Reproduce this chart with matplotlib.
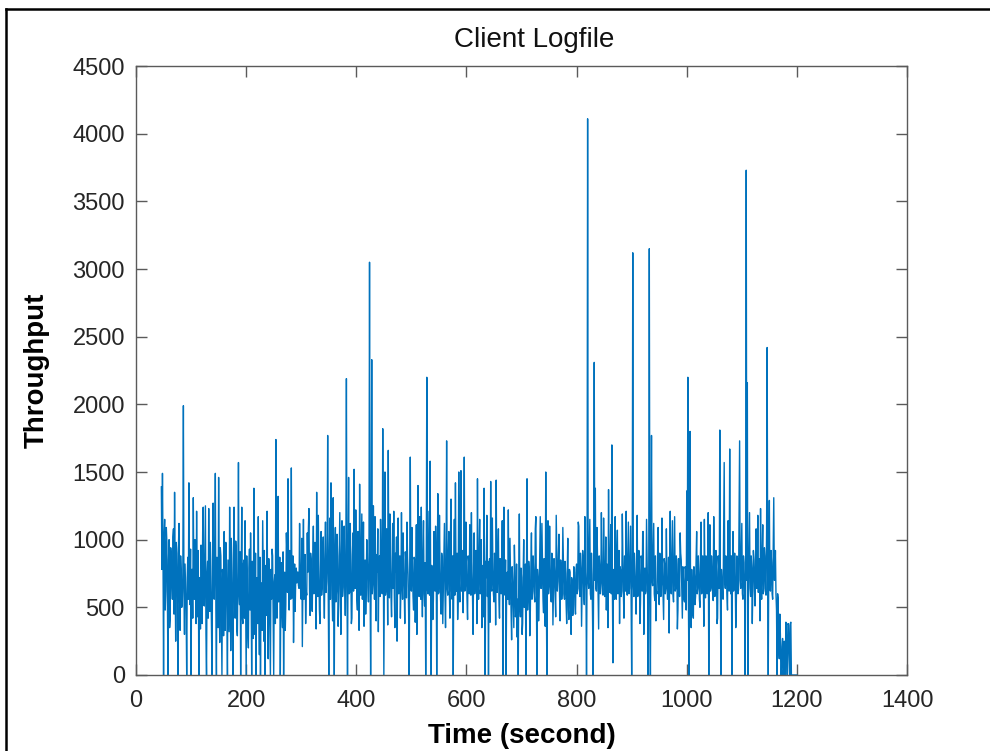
import numpy as np
import matplotlib
matplotlib.use("Agg")
import matplotlib.pyplot as plt
from matplotlib.lines import Line2D

plt.rcParams['font.family'] = ['Liberation Sans', 'DejaVu Sans']

# client log: one throughput sample per second, starting at t = 46 s
time_start = 46
time_step = 1
throughput = [
    # 46 s
    1390, 780, 1490, 900, 0, 1020, 1150, 480, 620, 1090, 980, 560, 0, 850, 1000, 350, 420, 940, 870, 690, 560, 1020, 1080, 450, 1350,
    720, 250, 980, 900, 580, 0, 940, 1120, 600, 330, 880, 760, 500, 540, 760, 1990, 620, 300, 820, 640, 480, 0, 720, 870, 560,
    # 96 s
    1420, 640, 520, 930, 0, 780, 780, 420, 1310, 700, 560, 1000, 890, 380, 1210, 600, 430, 920, 0, 650, 720, 340, 960, 780, 380,
    1050, 1240, 520, 510, 880, 1250, 300, 0, 760, 840, 420, 1230, 640, 470, 980, 690, 350, 0, 860, 1270, 610, 560, 930, 1490, 480,
    # 146 s
    0, 870, 620, 350, 1460, 600, 240, 940, 880, 430, 0, 780, 700, 290, 1060, 520, 330, 980, 820, 460, 0, 850, 560, 320, 1240,
    640, 180, 1010, 760, 420, 0, 880, 1240, 560, 420, 990, 910, 340, 290, 760, 1570, 600, 520, 910, 0, 700, 1240, 430, 380, 820,
    # 196 s
    850, 420, 1140, 560, 0, 880, 640, 310, 200, 790, 930, 480, 1050, 620, 0, 840, 560, 270, 1380, 690, 300, 900, 0, 650, 720,
    380, 1170, 520, 150, 870, 0, 610, 680, 330, 1140, 700, 250, 920, 0, 560, 810, 440, 1210, 590, 120, 860, 690, 350, 0, 780,
    # 246 s
    560, 930, 880, 450, 0, 690, 740, 380, 1740, 820, 420, 960, 1320, 540, 600, 870, 0, 640, 830, 470, 350, 910, 0, 580, 760,
    330, 520, 1050, 900, 610, 1450, 700, 480, 920, 790, 560, 1530, 640, 570, 880, 240, 610, 820, 470, 720, 790, 680, 760, 760, 660,
    # 296 s
    640, 1120, 820, 600, 560, 1010, 210, 720, 1150, 560, 640, 890, 380, 620, 590, 1050, 760, 1080, 1230, 640, 440, 900, 850, 560, 470,
    860, 1100, 600, 660, 980, 920, 340, 1350, 700, 580, 1180, 790, 480, 380, 760, 1060, 590, 650, 920, 1020, 640, 420, 860, 1130, 610,
    # 346 s
    690, 870, 1770, 620, 0, 830, 1160, 560, 1420, 900, 590, 400, 1310, 650, 0, 880, 1090, 540, 620, 1040, 880, 360, 540, 900, 1200,
    640, 300, 870, 1140, 580, 650, 920, 1100, 680, 440, 850, 2190, 700, 0, 840, 1460, 600, 610, 1120, 830, 380, 420, 890, 1050, 620,
    # 396 s
    1520, 700, 640, 1220, 820, 560, 480, 1060, 760, 330, 1410, 820, 590, 880, 1190, 560, 700, 1130, 360, 760, 850, 450, 620, 1000, 900,
    650, 540, 860, 3050, 720, 0, 790, 2330, 600, 680, 1250, 810, 560, 1170, 700, 400, 890, 760, 1080, 320, 830, 880, 580, 1150, 900,
    # 446 s
    720, 600, 1820, 870, 0, 760, 1500, 590, 630, 1080, 840, 370, 1660, 720, 570, 1190, 790, 580, 430, 860, 1120, 640, 1210, 590, 350,
    900, 760, 1020, 250, 800, 1160, 600, 660, 880, 420, 640, 1200, 700, 560, 1050, 780, 620, 380, 910, 850, 570, 1130, 870, 740, 460,
    # 496 s
    0, 820, 1610, 690, 620, 1090, 790, 580, 480, 870, 850, 390, 660, 1110, 300, 780, 1400, 650, 580, 1170, 770, 560, 1240, 720, 430,
    880, 1140, 600, 510, 830, 0, 760, 2200, 640, 600, 880, 1210, 590, 1580, 700, 0, 810, 730, 410, 560, 1060, 880, 620, 1100, 880,
    # 546 s
    0, 760, 1340, 600, 610, 1180, 780, 560, 450, 900, 860, 380, 640, 950, 1120, 590, 350, 830, 1730, 640, 590, 870, 1060, 600, 420,
    1040, 1300, 620, 560, 880, 0, 790, 1150, 590, 1420, 700, 620, 900, 410, 580, 1500, 680, 540, 1190, 1510, 620, 700, 920, 460, 800,
    # 596 s
    1610, 620, 650, 1130, 780, 560, 410, 880, 840, 600, 1110, 700, 590, 1200, 760, 580, 300, 800, 1050, 600, 670, 920, 880, 380, 1450,
    700, 560, 890, 1150, 600, 640, 1000, 350, 760, 810, 430, 1380, 620, 0, 840, 720, 1180, 580, 840, 0, 770, 860, 390, 1430, 640,
    # 646 s
    620, 1160, 780, 600, 540, 900, 830, 370, 1440, 700, 610, 880, 1080, 560, 420, 860, 850, 600, 680, 1140, 0, 780, 1240, 620, 590,
    850, 0, 700, 760, 560, 1220, 640, 520, 1010, 740, 470, 260, 800, 690, 520, 350, 960, 780, 430, 460, 820, 280, 560, 0, 720,
    # 696 s
    1190, 520, 430, 790, 720, 300, 380, 760, 1000, 500, 540, 820, 0, 700, 1450, 480, 600, 840, 770, 290, 480, 800, 1050, 560, 620,
    880, 760, 600, 540, 1080, 1170, 620, 0, 780, 700, 400, 580, 900, 1170, 640, 640, 1120, 820, 560, 460, 860, 770, 360, 1500, 640,
    # 746 s
    0, 780, 1140, 600, 660, 1100, 800, 580, 540, 900, 850, 370, 620, 860, 760, 590, 430, 1180, 880, 620, 690, 900, 1040, 600, 400,
    850, 790, 560, 640, 1090, 830, 600, 560, 840, 750, 520, 380, 760, 1010, 480, 410, 780, 760, 460, 300, 720, 690, 440, 520, 800,
    # 796 s
    760, 520, 450, 780, 820, 600, 640, 1130, 1100, 640, 580, 900, 790, 360, 670, 920, 850, 600, 520, 1170, 760, 640, 0, 800, 4110,
    700, 640, 880, 1150, 600, 560, 900, 740, 410, 0, 810, 2310, 700, 1380, 640, 620, 1090, 870, 580, 340, 880, 790, 600, 680, 1200,
    # 846 s
    760, 600, 590, 1160, 830, 580, 660, 1020, 480, 820, 790, 350, 1370, 700, 610, 890, 1110, 600, 1700, 640, 90, 780, 720, 560, 1170,
    700, 560, 900, 1070, 600, 650, 920, 380, 800, 770, 580, 620, 1190, 860, 600, 420, 880, 740, 620, 1210, 660, 590, 870, 1130, 600,
    # 896 s
    640, 880, 1100, 600, 0, 780, 3120, 700, 580, 900, 760, 600, 450, 860, 1180, 580, 640, 920, 770, 380, 530, 880, 860, 620, 1060,
    1060, 300, 780, 790, 600, 620, 1150, 840, 580, 0, 760, 3150, 700, 0, 820, 1770, 700, 660, 900, 1120, 600, 550, 880, 400, 620,
    # 946 s
    600, 880, 1090, 620, 520, 900, 850, 580, 670, 1160, 760, 580, 410, 860, 820, 600, 640, 1080, 720, 560, 560, 870, 310, 780, 1210,
    640, 600, 880, 1140, 600, 540, 890, 1170, 620, 640, 880, 820, 340, 480, 860, 760, 580, 1050, 900, 850, 620, 420, 800, 700, 560,
    # 996 s
    540, 800, 780, 480, 1360, 700, 2200, 560, 0, 760, 1800, 440, 350, 780, 660, 450, 420, 800, 730, 520, 580, 860, 1060, 600, 640,
    880, 760, 560, 500, 900, 1130, 600, 620, 880, 740, 360, 1150, 700, 570, 880, 800, 600, 660, 1200, 0, 760, 1110, 620, 640, 880,
    # 1046 s
    780, 600, 550, 1170, 830, 580, 610, 920, 760, 380, 420, 880, 800, 640, 1810, 700, 0, 780, 690, 600, 560, 1100, 1570, 700, 640,
    880, 810, 600, 480, 1140, 760, 620, 1670, 700, 600, 880, 0, 760, 1060, 620, 650, 900, 740, 350, 520, 880, 860, 600, 630, 1180,
    # 1096 s
    1730, 700, 640, 900, 1120, 600, 560, 880, 830, 620, 0, 780, 3730, 700, 2160, 0, 620, 900, 1200, 640, 580, 880, 790, 380, 660,
    920, 850, 620, 510, 880, 1080, 640, 700, 1180, 610, 860, 820, 400, 1230, 700, 560, 900, 1110, 600, 640, 940, 880, 620, 590, 1060,
    # 1146 s
    2420, 700, 0, 900, 1290, 640, 620, 920, 830, 600, 560, 940, 1310, 700, 700, 920, 600, 480, 0, 600, 560, 200, 120, 450, 300,
    0, 0, 210, 270, 0, 40, 250, 0, 0, 390, 380, 0, 0, 380, 370, 150, 0, 380, 390, 0, 0, 0, 0, 0, 0,
    # 1196 s
    0, 0, 0, 0, 0,
]

x_ticks = [0, 200, 400, 600, 800, 1000, 1200, 1400]
y_ticks = [0, 500, 1000, 1500, 2000, 2500, 3000, 3500, 4000, 4500]

t = time_start + time_step * np.arange(len(throughput))

fig = plt.figure(figsize=(9.9, 7.51), dpi=100)
ax = fig.add_axes([0.1374, 0.1012, 0.7788, 0.8109])

ax.plot(t, throughput, color='#0072BD', linewidth=1.0)

ax.set_xlim(0, 1400)
ax.set_ylim(0, 4500)
ax.set_xticks(x_ticks)
ax.set_yticks(y_ticks)

axis_grey = '#5a5a5a'
for side in ax.spines.values():
    side.set_color(axis_grey)
    side.set_linewidth(1.0)
ax.tick_params(direction='in', length=8, width=1.0, color=axis_grey,
               labelsize=17, labelcolor='#262626',
               top=True, right=True)
ax.tick_params(axis='x', pad=11)
ax.tick_params(axis='y', pad=8)

ax.set_xlabel('Time (second)', fontsize=20, fontweight='bold', labelpad=8)
ax.set_ylabel('Throughput', fontsize=20, fontweight='bold', labelpad=16)
fig.text(0.540, 0.947, 'Client Logfile', fontsize=20, ha='center', va='center',
         color='#111111')

# frame around the figure (top and left edges)
fig.add_artist(Line2D([0.006, 1.0], [0.988, 0.988], color='black', linewidth=1.8,
                      transform=fig.transFigure))
fig.add_artist(Line2D([0.006, 0.006], [0.0, 0.988], color='black', linewidth=1.8,
                      transform=fig.transFigure))

fig.savefig('out.png', dpi=100)
